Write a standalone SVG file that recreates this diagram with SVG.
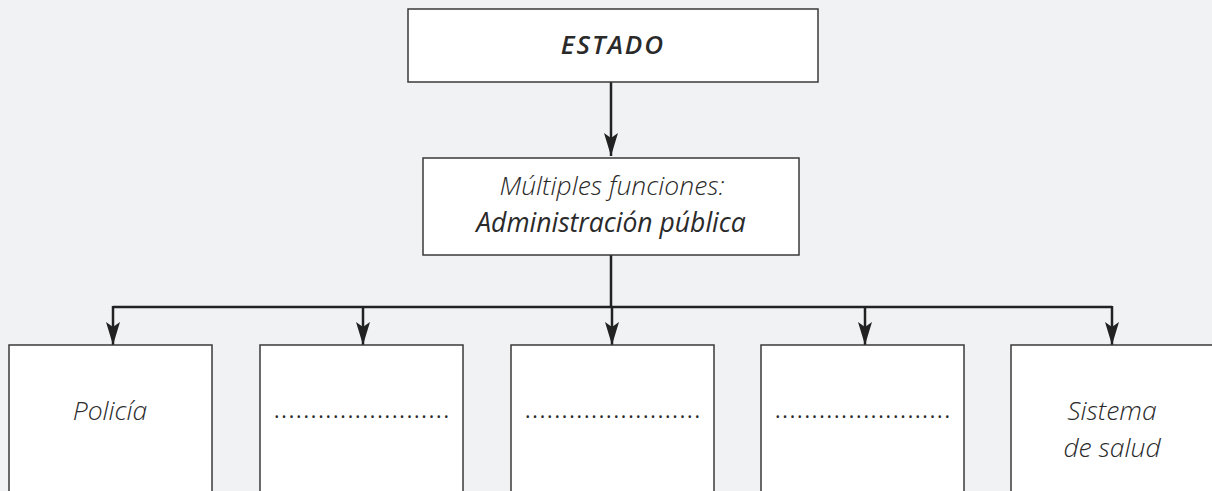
<svg xmlns="http://www.w3.org/2000/svg" width="1212" height="491" viewBox="0 0 1212 491">
<defs>
<style>
.box{fill:#ffffff;stroke:#3a3a3a;stroke-width:1.5}
.con{fill:none;stroke:#222;stroke-width:2.5}
.t{font-family:"Open Sans","Noto Sans",sans-serif;font-style:italic;fill:#2a2a2a;text-anchor:middle}
.lt{font-weight:300;font-size:26.5px}
.md{font-weight:400;font-size:26.5px}
.bd{font-weight:600;font-size:26px;letter-spacing:2px}
.dots{font-family:"Open Sans",sans-serif;font-size:21px;fill:#2a2a2a}
</style>
<marker id="ah" markerWidth="23" markerHeight="14" viewBox="0 0 23 14" refX="23" refY="7" orient="auto" markerUnits="userSpaceOnUse">
<path d="M0,0 L23,7 L0,14 L5,7 Z" fill="#222"/>
</marker>
</defs>
<rect width="1212" height="491" fill="#f1f2f4"/>
<g id="connectors">
<line class="con" x1="611" y1="82" x2="611" y2="156" marker-end="url(#ah)"/>
<line class="con" x1="611" y1="255" x2="611" y2="307"/>
<line class="con" x1="113" y1="307" x2="1112" y2="307"/>
<line class="con" x1="113" y1="306" x2="113" y2="345" marker-end="url(#ah)"/>
<line class="con" x1="363" y1="306" x2="363" y2="345" marker-end="url(#ah)"/>
<line class="con" x1="612" y1="306" x2="612" y2="345" marker-end="url(#ah)"/>
<line class="con" x1="865" y1="306" x2="865" y2="345" marker-end="url(#ah)"/>
<line class="con" x1="1112" y1="306" x2="1112" y2="345" marker-end="url(#ah)"/>
</g>
<g id="estado">
<rect class="box" x="408" y="9" width="410" height="73"/>
<text class="t bd" x="613" y="54">ESTADO</text>
</g>
<g id="administracion">
<rect class="box" x="423" y="158" width="376" height="97"/>
<text class="t lt" x="612" y="195">Múltiples funciones:</text>
<text class="t md" x="611" y="232">Administración pública</text>
</g>
<g id="policia">
<rect class="box" x="9" y="345" width="203" height="160"/>
<text class="t lt" x="110" y="420">Policía</text>
</g>
<g id="blank1">
<rect class="box" x="260" y="345" width="203" height="160"/>
<text class="dots" x="274" y="418" textLength="175" lengthAdjust="spacing">........................</text>
</g>
<g id="blank2">
<rect class="box" x="511" y="345" width="203" height="160"/>
<text class="dots" x="525" y="418" textLength="175" lengthAdjust="spacing">........................</text>
</g>
<g id="blank3">
<rect class="box" x="761" y="345" width="203" height="160"/>
<text class="dots" x="775" y="418" textLength="175" lengthAdjust="spacing">........................</text>
</g>
<g id="salud">
<rect class="box" x="1011" y="345" width="210" height="160"/>
<text class="t lt" x="1112" y="420">Sistema</text>
<text class="t lt" x="1112" y="457">de salud</text>
</g>
</svg>
